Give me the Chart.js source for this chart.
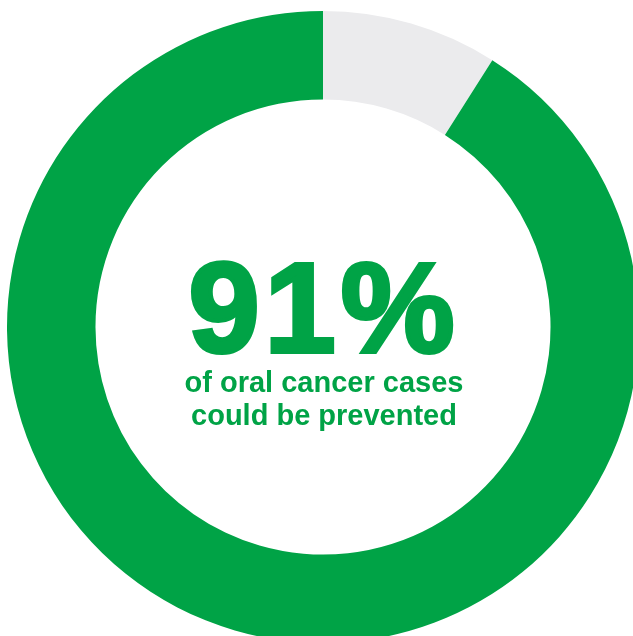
<!DOCTYPE html>
<html>
<head>
<meta charset="utf-8">
<script src="https://cdn.jsdelivr.net/npm/chart.js@4/dist/chart.umd.min.js"></script>
<style>
  html, body { margin:0; padding:0; width:633px; height:636px; overflow:hidden; background:#fff; }
  #wrap { position:absolute; left:7px; top:11px; width:632px; height:632px; }
  .t { position:absolute; left:0; width:648px; text-align:center; color:#00a346; font-family:"Liberation Sans", Arial, sans-serif; font-weight:bold; white-space:nowrap; }
  #big { top:243px; font-size:128px; line-height:130px; letter-spacing:5px; -webkit-text-stroke:4px #00a346; }
  #l1 { top:367px; font-size:29px; line-height:30px; }
  #l2 { top:400px; font-size:29px; line-height:30px; }
</style>
</head>
<body>
<div id="wrap"><canvas id="c"></canvas></div>
<div class="t" id="big">91%</div>
<div class="t" id="l1">of oral cancer cases</div>
<div class="t" id="l2">could be prevented</div>
<script>
const categories = ["Not preventable", "Could be prevented"];
const values = [9, 91];
const colors = ["#ebebed", "#00a346"];

new Chart(document.getElementById('c'), {
  type: 'doughnut',
  data: {
    labels: categories,
    datasets: [{ data: values, backgroundColor: colors, borderWidth: 0 }]
  },
  options: {
    responsive: true,
    maintainAspectRatio: false,
    animation: false,
    cutout: '72%',
    layout: { padding: 0 },
    plugins: { legend: { display: false }, tooltip: { enabled: false } }
  }
});
</script>
</body>
</html>
